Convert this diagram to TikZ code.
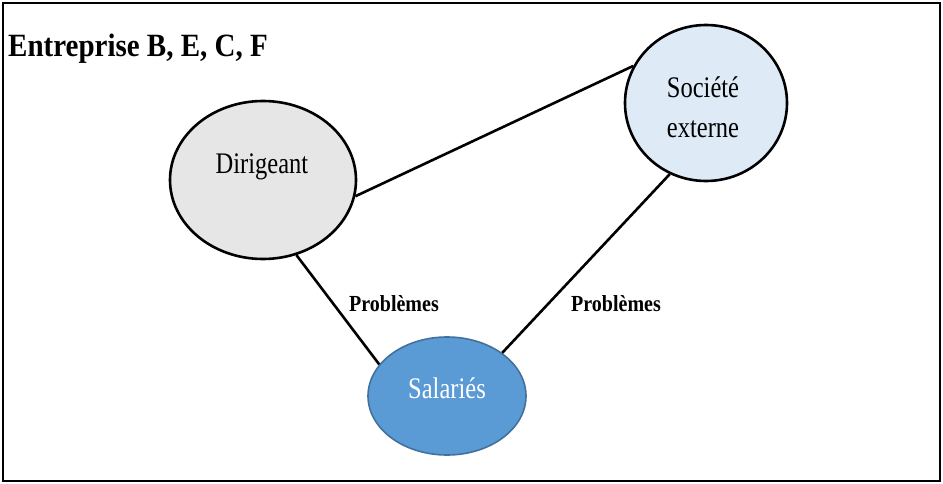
\documentclass[tikz,border=0pt]{standalone}
\usepackage{fontspec}
\usepackage{graphicx}
\setmainfont{Liberation Serif}
\usetikzlibrary{shapes.geometric}
\definecolor{dirfill}{HTML}{E7E6E6}
\definecolor{socfill}{HTML}{DEEBF7}
\definecolor{salfill}{HTML}{5B9BD5}
\definecolor{saldraw}{HTML}{41719C}
\newcommand{\talltxt}[2][1.22]{\scalebox{1}[#1]{#2}}
\tikzset{
  blob/.style={ellipse, inner sep=0pt, line width=2.6pt, draw=black},
  nodetext/.style={font=\fontsize{24.5}{40}\selectfont, align=center, inner sep=0pt},
  link/.style={line width=2.6pt, draw=black},
  lbl/.style={font=\bfseries\fontsize{20}{24}\selectfont, inner sep=0pt, anchor=base}
}
\begin{document}
\begin{tikzpicture}[x=1pt,y=-1pt]
\useasboundingbox (0,0) rectangle (943,484);
\draw[line width=2.8pt] (3,3) rectangle (940,481);
\node[font=\bfseries\fontsize{29}{32}\selectfont, anchor=base west, inner sep=0pt] (title) at (8,57) {\talltxt[1.12]{Entreprise B, E, C, F}};
\node[blob, fill=dirfill, minimum width=186pt, minimum height=158pt] (dir) at (263,180) {};
\node[blob, fill=socfill, minimum width=162pt, minimum height=156pt] (soc) at (706,103) {};
\node[blob, fill=salfill, draw=saldraw, line width=1.6pt, minimum width=158pt, minimum height=118pt] (sal) at (447,396) {};
\node[nodetext] (dirt) at (262,167) {\talltxt{Dirigeant}};
\node[nodetext] (soct) at (703,107) {\talltxt{Société}\\\talltxt{externe}};
\node[nodetext, text=white] (salt) at (447,388) {\talltxt{Salariés}};
\draw[link] (dir.-10.3) -- (soc.153.7);
\draw[link] (dir.-66.4) -- (sal.155.2);
\draw[link] (soc.-117.6) -- (sal.38.7);
\node[lbl] (p1) at (394,311) {\talltxt[1.15]{Problèmes}};
\node[lbl] (p2) at (616,311) {\talltxt[1.15]{Problèmes}};
\end{tikzpicture}
\end{document}
